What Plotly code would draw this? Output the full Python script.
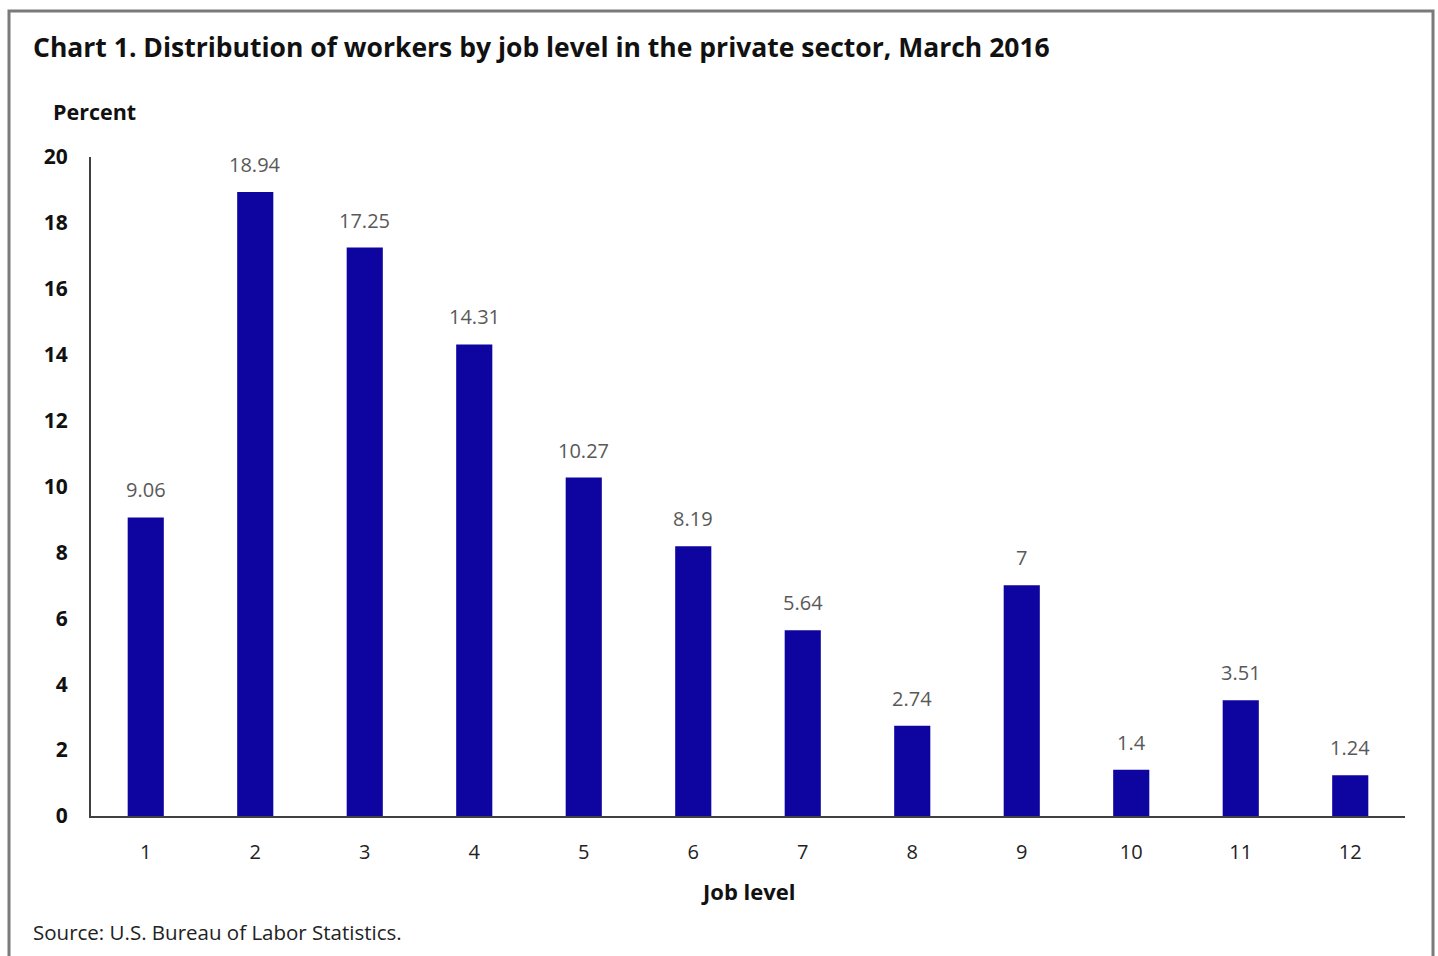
import plotly.graph_objects as go

job_levels = [1, 2, 3, 4, 5, 6, 7, 8, 9, 10, 11, 12]
percent = [9.06, 18.94, 17.25, 14.31, 10.27, 8.19, 5.64, 2.74, 7, 1.4, 3.51, 1.24]
y_ticks = [0, 2, 4, 6, 8, 10, 12, 14, 16, 18, 20]

title = "Chart 1. Distribution of workers by job level in the private sector, March 2016"
source = "Source: U.S. Bureau of Labor Statistics."

FONT = "Open Sans"
W, H = 1438, 956
L, R, T, B = 91, 33, 157, 140
pw, ph = W - L - R, H - T - B

def px(x):
    return (x - L) / pw

def py(y):
    return (H - B - y) / ph

fig = go.Figure()
fig.add_trace(go.Bar(
    x=job_levels, y=percent,
    marker=dict(color="#0e04a0", line=dict(width=0)),
    hoverinfo="x+y",
))

annotations = []
for c, v in zip(job_levels, percent):
    annotations.append(dict(
        x=c, y=v, xref="x", yref="y", text=f"{v:g}", showarrow=False,
        yanchor="bottom", yshift=12,
        font=dict(family=FONT, size=20, color="#595959"),
    ))
annotations += [
    dict(x=px(31), y=py(47), xref="paper", yref="paper", text=f"<b>{title}</b>",
         showarrow=False, xanchor="left", yanchor="middle",
         font=dict(family=FONT, size=26.5, color="#111111")),
    dict(x=px(51), y=py(111), xref="paper", yref="paper", text="<b>Percent</b>",
         showarrow=False, xanchor="left", yanchor="middle",
         font=dict(family=FONT, size=21.5, color="#111111")),
    dict(x=0.5, y=py(891), xref="paper", yref="paper", text="<b>Job level</b>",
         showarrow=False, xanchor="center", yanchor="middle",
         font=dict(family=FONT, size=22, color="#111111")),
    dict(x=px(31), y=py(932), xref="paper", yref="paper", text=source,
         showarrow=False, xanchor="left", yanchor="middle",
         font=dict(family=FONT, size=20.5, color="#222222")),
]

fig.update_layout(
    width=W, height=H,
    margin=dict(l=L, r=R, t=T, b=B, autoexpand=False),
    paper_bgcolor="white", plot_bgcolor="white",
    showlegend=False,
    bargap=0.67,
    annotations=annotations,
    shapes=[dict(type="rect", xref="paper", yref="paper",
                 x0=px(9), x1=px(1433), y0=py(962), y1=py(11),
                 line=dict(color="#7a7a7a", width=3), fillcolor="rgba(0,0,0,0)",
                 layer="below")],
    xaxis=dict(
        range=[0.5, 12.5], tickvals=job_levels,
        showgrid=False, zeroline=False, showline=True, linecolor="#404040", linewidth=2,
        ticks="", ticklabelstandoff=17,
        tickfont=dict(family=FONT, size=20, color="#222222"),
    ),
    yaxis=dict(
        range=[0, 20], tickvals=y_ticks, ticktext=[f"<b>{t}</b>" for t in y_ticks],
        showgrid=False, zeroline=False, showline=True, linecolor="#404040", linewidth=2,
        ticks="", ticklabelstandoff=17,
        tickfont=dict(family=FONT, size=21, color="#111111"),
    ),
)

fig.write_html("out.html", config={"displayModeBar": False},
               post_script="document.body.style.margin='0';")
